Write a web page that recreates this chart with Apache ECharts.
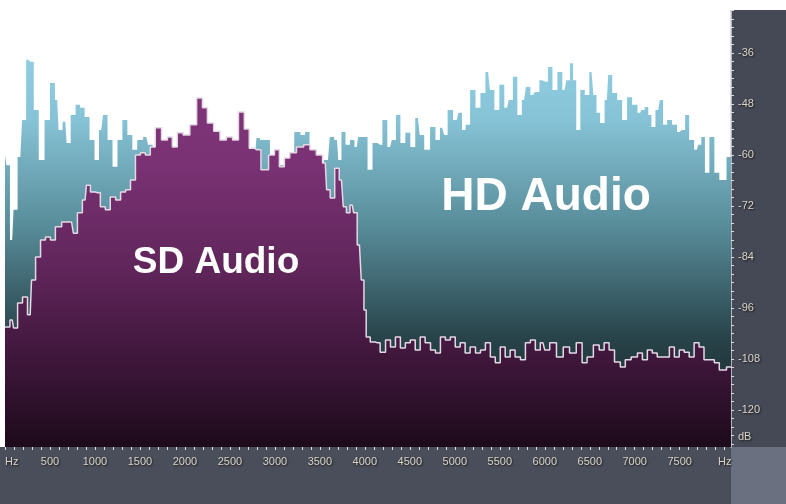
<!DOCTYPE html>
<html>
<head>
<meta charset="utf-8">
<script src="https://cdn.jsdelivr.net/npm/echarts@6/dist/echarts.min.js"></script>
<style>
html,body{margin:0;padding:0;background:#fff;}
#main{width:786px;height:504px;}
</style>
</head>
<body>
<div id="main"></div>
<script>
// HD Audio spectrum (Hz / dB)
var hdFreq = [0,30,80,110,170,210,260,300,340,410,
	470,530,580,610,670,700,760,810,860,910,
	970,1020,1070,1110,1170,1220,1280,1330,1390,1440,
	1500,1570,1610,1670,1830,2060,2280,2500,2670,2780,
	2810,2860,2920,2970,3060,3170,3260,3310,3360,3410,
	3500,3590,3630,3690,3720,3760,3810,3860,3910,3940,
	4000,4060,4110,4170,4220,4280,4320,4370,4420,4480,
	4530,4590,4630,4690,4760,4810,4860,4900,4940,5020,
	5060,5100,5140,5200,5260,5310,5370,5410,5470,5520,
	5580,5620,5670,5720,5770,5810,5870,5910,5970,6010,
	6060,6110,6170,6220,6260,6300,6330,6370,6420,6470,
	6520,6560,6590,6640,6690,6720,6780,6830,6890,6940,
	7000,7060,7090,7130,7170,7200,7260,7300,7330,7390,
	7440,7500,7540,7580,7630,7690,7720,7760,7800,7860,
	7910,7970,8070];
var hdDb = [-60.0,-62.4,-80.0,-72.9,-60.5,-51.8,-37.6,-38.1,-49.4,-61.2,
	-51.8,-43.1,-47.1,-54.1,-52.2,-57.2,-50.6,-48.2,-48.9,-51.1,
	-56.5,-61.2,-54.1,-50.6,-56.5,-62.8,-56.5,-51.8,-55.3,-58.8,
	-56.5,-55.8,-57.6,-61.2,-62.4,-61.2,-62.4,-61.2,-61.2,-60.0,
	-56.0,-56.5,-56.5,-61.2,-62.4,-61.2,-54.6,-55.3,-54.6,-60.0,
	-62.4,-61.2,-55.8,-56.5,-61.2,-54.6,-57.6,-56.5,-58.1,-55.8,
	-55.8,-63.5,-57.2,-57.6,-51.8,-58.1,-56.5,-50.6,-57.2,-54.8,
	-58.1,-51.3,-55.3,-58.8,-53.4,-56.5,-53.6,-55.3,-49.4,-51.8,
	-50.1,-54.1,-52.9,-44.7,-48.9,-45.4,-40.5,-44.7,-49.4,-43.5,
	-48.9,-47.1,-41.6,-50.6,-47.1,-44.0,-45.9,-45.2,-42.4,-42.8,
	-39.3,-44.7,-40.5,-44.7,-42.4,-38.4,-42.4,-54.1,-44.7,-45.9,
	-40.5,-45.9,-50.1,-52.5,-47.1,-41.2,-45.4,-47.1,-51.8,-46.4,
	-48.2,-50.1,-49.4,-48.7,-50.6,-53.4,-49.4,-47.1,-52.9,-51.8,
	-52.9,-54.6,-54.1,-50.6,-56.5,-58.8,-57.6,-55.8,-64.2,-55.8,
	-64.2,-65.9,-60.5];

// SD Audio spectrum (Hz / dB)
var sdFreq = [0,30,80,110,170,220,280,310,370,420,
	480,530,590,670,740,780,830,890,920,980,
	1030,1090,1140,1200,1260,1310,1370,1420,1480,1530,
	1590,1640,1700,1780,1830,1890,1940,2020,2090,2170,
	2220,2280,2360,2420,2500,2560,2630,2690,2740,2800,
	2890,2970,3020,3080,3130,3200,3280,3360,3420,3500,
	3560,3590,3640,3690,3740,3780,3810,3860,3890,3940,
	3980,4000,4030,4090,4140,4200,4260,4310,4370,4420,
	4480,4530,4590,4640,4700,4760,4810,4870,4920,4980,
	5030,5090,5140,5200,5260,5310,5370,5420,5480,5530,
	5590,5640,5700,5760,5810,5870,5920,5980,6020,6090,
	6170,6240,6310,6390,6440,6500,6580,6630,6690,6740,
	6810,6870,6920,7000,7060,7110,7170,7220,7280,7360,
	7410,7470,7520,7580,7630,7690,7740,7800,7860,7910,
	7970,8070];
var sdDb = [-100.5,-100.5,-98.8,-100.7,-94.8,-93.4,-97.6,-89.4,-84.0,-80.0,
	-79.3,-80.0,-76.9,-75.8,-75.8,-78.4,-73.6,-70.6,-67.1,-68.7,
	-68.9,-72.2,-72.9,-69.9,-70.6,-68.7,-68.2,-65.9,-60.0,-59.5,
	-60.0,-58.1,-53.6,-56.5,-55.8,-58.1,-54.8,-55.3,-52.9,-46.6,
	-48.9,-52.5,-54.4,-56.5,-55.8,-56.5,-49.9,-53.9,-58.4,-58.8,
	-63.5,-60.0,-58.8,-62.8,-60.7,-59.5,-58.1,-57.6,-58.8,-60.0,
	-61.9,-68.2,-70.1,-63.1,-65.9,-72.2,-73.6,-71.8,-73.6,-81.2,
	-89.4,-96.5,-102.8,-104.0,-104.2,-106.4,-103.5,-105.2,-102.8,-105.4,
	-104.2,-103.5,-105.9,-102.8,-104.2,-105.9,-106.6,-102.8,-103.5,-102.8,
	-105.2,-104.2,-106.6,-105.2,-106.6,-105.9,-104.2,-107.5,-108.9,-105.2,
	-107.5,-105.9,-107.5,-108.2,-104.2,-103.5,-105.9,-104.2,-105.9,-104.2,
	-107.5,-105.2,-106.6,-104.2,-108.9,-107.5,-104.7,-105.9,-104.2,-105.9,
	-108.7,-109.9,-108.2,-107.5,-106.6,-108.2,-105.9,-106.6,-107.5,-107.5,
	-105.2,-107.5,-105.9,-106.4,-107.5,-104.2,-105.2,-108.2,-108.2,-108.9,
	-110.6,-109.9];

// axis ticks / labels
var dbLabels = [-120,-108,-96,-84,-72,-60,-48,-36];
var hzLabels = [0,500,1000,1500,2000,2500,3000,3500,4000,4500,5000,5500,6000,6500,7000,7500,8000];

function zip(a, b){
	var out = [];
	for (var i = 0; i < a.length; i++) { out.push([a[i], b[i]]); }
	return out;
}
var dbTicks = [];
for (var d = -128; d <= -26; d += 2) { dbTicks.push(d); }
var hzTicks = [];
for (var h = 0; h <= 8000; h += 100) { hzTicks.push(h); }

var labelStyle = {
	color: '#d8d4c6',
	fontFamily: 'Liberation Sans',
	fontSize: 11,
	textShadowColor: 'rgba(0,0,0,0.7)',
	textShadowBlur: 2,
	textShadowOffsetX: 1,
	textShadowOffsetY: 1
};

var myChart = echarts.init(document.getElementById('main'));
var option = {
	backgroundColor: '#ffffff',
	animation: false,
	grid: {
		left: 5, right: 55, top: 10, bottom: 57,
		show: true, backgroundColor: '#ffffff', borderWidth: 0
	},
	xAxis: {
		type: 'value',
		min: 0, max: 8070,
		axisLine: { show: false, onZero: false },
		splitLine: { show: false },
		axisTick: {
			customValues: hzTicks,
			length: 3,
			lineStyle: { color: '#e6dce2', width: 1 }
		},
		axisLabel: Object.assign({
			customValues: hzLabels,
			margin: 9,
			alignMinLabel: 'left',
			formatter: function (v) {
				if (v === 0 || v === 8000) return 'Hz';
				return String(v);
			}
		}, labelStyle)
	},
	yAxis: {
		type: 'value',
		position: 'right',
		min: -128.7, max: -25.9,
		axisLine: { show: true, onZero: false, lineStyle: { color: '#d9d9de', width: 1.5 } },
		splitLine: { show: false },
		axisTick: {
			customValues: dbTicks,
			length: 3,
			lineStyle: { color: '#d9d9de', width: 1 }
		},
		axisLabel: Object.assign({
			customValues: [-126.3].concat(dbLabels),
			margin: 7,
			formatter: function (v) {
				if (v < -125) return 'dB';
				return String(v);
			}
		}, labelStyle)
	},
	graphic: [
		{ type: 'rect', z: -10, shape: { x: 0, y: 447, width: 731, height: 57 }, style: { fill: '#4a4e5a' } },
		{ type: 'rect', z: -10, shape: { x: 731, y: 10, width: 55, height: 437 }, style: { fill: '#454955' } },
		{ type: 'rect', z: -10, shape: { x: 731, y: 447, width: 55, height: 57 }, style: { fill: '#6a7080' } },
		{ type: 'text', z: 100, x: 216, y: 263, style: {
			text: 'SD Audio', fill: '#ffffff', font: 'bold 37px "Liberation Sans"',
			align: 'center', verticalAlign: 'middle' } },
		{ type: 'text', z: 100, x: 546, y: 197, style: {
			text: 'HD Audio', fill: '#ffffff', font: 'bold 46px "Liberation Sans"',
			align: 'center', verticalAlign: 'middle' } }
	],
	series: [
		{
			name: 'HD Audio',
			type: 'line',
			step: 'middle',
			data: zip(hdFreq, hdDb),
			showSymbol: false,
			lineStyle: { width: 0 },
			areaStyle: {
				origin: 'start',
				opacity: 1,
				color: {
					type: 'linear', x: 0, y: 10, x2: 0, y2: 447, global: true,
					colorStops: [
						{ offset: 0.0, color: '#9ad6ea' },
						{ offset: 0.25, color: '#86c3d6' },
						{ offset: 0.5, color: '#578b98' },
						{ offset: 0.75, color: '#28434a' },
						{ offset: 1.0, color: '#121d1d' }
					]
				}
			},
			z: 2
		},
		{
			name: 'SD Audio',
			type: 'line',
			step: 'middle',
			data: zip(sdFreq, sdDb),
			showSymbol: false,
			lineStyle: { width: 1.5, color: '#e4d8e4' },
			areaStyle: {
				origin: 'start',
				opacity: 1,
				color: {
					type: 'linear', x: 0, y: 10, x2: 0, y2: 447, global: true,
					colorStops: [
						{ offset: 0.0, color: '#853a7e' },
						{ offset: 0.35, color: '#7a3274' },
						{ offset: 0.6, color: '#5f2559' },
						{ offset: 0.85, color: '#361333' },
						{ offset: 1.0, color: '#1c0a1a' }
					]
				}
			},
			z: 3
		}
	]
};
myChart.setOption(option);
</script>
</body>
</html>
